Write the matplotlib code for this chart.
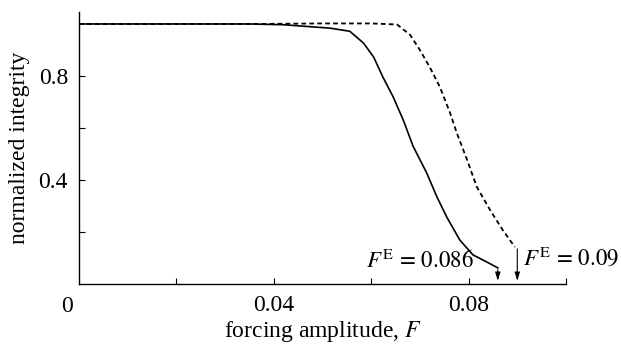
import matplotlib
matplotlib.use("Agg")
import matplotlib.pyplot as plt

plt.rcParams['font.family'] = ['Liberation Serif', 'DejaVu Serif']
plt.rcParams['mathtext.fontset'] = 'stix'

# данные
F_solid = [0, 0.02, 0.035, 0.042, 0.0515, 0.0556, 0.0584, 0.0605, 0.0624, 0.0645,
           0.0666, 0.0686, 0.0714, 0.0735, 0.0755, 0.0782, 0.0809, 0.0837, 0.086]
I_solid = [1.0, 1.0, 1.0, 0.997, 0.984, 0.972, 0.927, 0.873, 0.796, 0.72,
           0.63, 0.53, 0.427, 0.335, 0.258, 0.169, 0.112, 0.085, 0.062]

F_dashed = [0, 0.036, 0.05, 0.06, 0.0653, 0.068, 0.070, 0.072, 0.0741, 0.0762,
            0.0776, 0.0797, 0.0817, 0.0844, 0.087, 0.0895]
I_dashed = [1.0, 1.0, 1.002, 1.002, 0.998, 0.958, 0.90, 0.835, 0.758, 0.658,
            0.58, 0.477, 0.373, 0.285, 0.208, 0.142]

FE_values = [0.086, 0.09]
arrow_start = [0.055, 0.135]

x_ticks = [0.02, 0.04, 0.06, 0.08, 0.1]
x_labels = ['', '0.04', '', '0.08', '']
y_ticks = [0.2, 0.4, 0.6, 0.8]
y_labels = ['', '0.4', '', '0.8']

fig = plt.figure(figsize=(6.21, 3.48), dpi=100)
ax = fig.add_axes([0.1272, 0.1839, 0.7842, 0.7816])

ax.plot(F_solid, I_solid, color='black', lw=1.2)
ax.plot(F_dashed, I_dashed, color='black', lw=1.3, dashes=(2.6, 1.8))

# стрелки к значениям F^E
for fe, y0 in zip(FE_values, arrow_start):
    ax.annotate('', xy=(fe, 0.012), xytext=(fe, y0),
                arrowprops=dict(arrowstyle='-|>,head_length=0.5,head_width=0.15',
                                color='black', lw=0.8, shrinkA=0, shrinkB=0))

ax.text(0.0810, 0.088, r'$F^{\mathrm{E}}\,=\,0.086$', fontsize=16.5, ha='right', va='center')
ax.text(0.0912, 0.1, r'$F^{\mathrm{E}}\,=\,0.09$', fontsize=16.5, ha='left', va='center',
        clip_on=False)

ax.set_xlim(0, 0.1)
ax.set_ylim(0, 1.046)

ax.set_xticks(x_ticks)
ax.set_xticklabels(x_labels)
ax.set_yticks(y_ticks)
ax.set_yticklabels(y_labels)
ax.tick_params(direction='in', length=4, width=0.8, labelsize=17, pad=8)

ax.text(-0.0025, -0.085, '0', fontsize=17, ha='center', va='center', clip_on=False)

ax.spines['top'].set_visible(False)
ax.spines['right'].set_visible(False)
ax.spines['left'].set_linewidth(1.0)
ax.spines['bottom'].set_linewidth(1.0)

ax.set_xlabel(r'forcing amplitude, $F$', fontsize=17, labelpad=2)
ax.set_ylabel('normalized integrity', fontsize=17, labelpad=6)

fig.savefig('out.png', dpi=100)
